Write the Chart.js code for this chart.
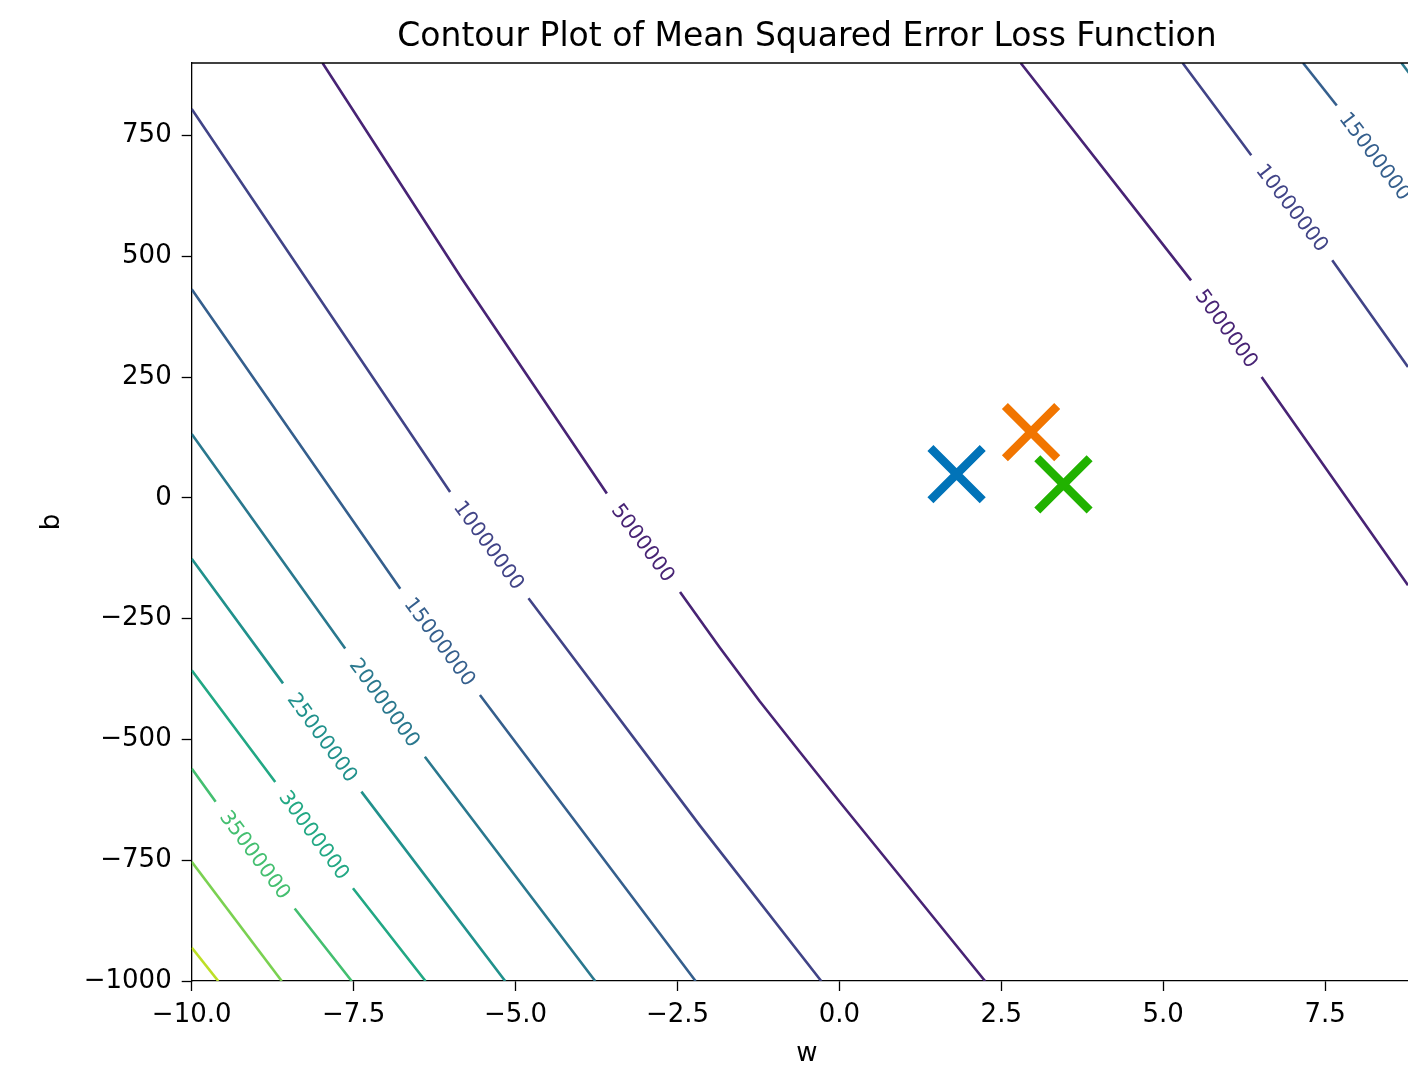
<!DOCTYPE html>
<html>
<head>
<meta charset="utf-8">
<script src="https://cdn.jsdelivr.net/npm/chart.js@4.4.0/dist/chart.umd.min.js"></script>
<style>
html,body{margin:0;padding:0;overflow:hidden;background:#fff;width:1408px;height:1066px;}
#c{display:block;}
</style>
</head>
<body>
<canvas id="c" width="1408" height="1066"></canvas>
<script>
// ---------- chart texts ----------
const chartTitle = "Contour Plot of Mean Squared Error Loss Function";
const xTitle = "w";
const yTitle = "b";

// ---------- axes (the picture is cut at w ≈ 8.78; the full axes box runs to w = 9) ----------
const xRange = [-10, 8.78];
const xAxesFullMax = 9;
const yRange = [-1000, 900];
const xTicks = [-10, -7.5, -5, -2.5, 0, 2.5, 5, 7.5];
const xTickLabels = ["−10.0", "−7.5", "−5.0", "−2.5", "0.0", "2.5", "5.0", "7.5"];
const yTicks = [-1000, -750, -500, -250, 0, 250, 500, 750];
const yTickLabels = ["−1000", "−750", "−500", "−250", "0", "250", "500", "750"];

// ---------- contour levels (value, viridis colour) ----------
const levels = [5000000, 10000000, 15000000, 20000000, 25000000, 30000000, 35000000, 40000000, 45000000];
const levelColors = ["#482475", "#414487", "#355f8d", "#2a788e", "#21918c", "#22a884", "#44bf70", "#7ad151", "#bddf26"];

// ---------- contour lines: [w, b], null = label gap ----------
const c5M_left  = [[-7.98, 900], [-5.83, 454], [-3.59, 9], null, [-2.46, -195], [-1.85, -309], [-1.23, -421], [-0.61, -526], [0.01, -630], [1.01, -795], [2.25, -1000]];
const c10M_left = [[-10, 805], [-6.01, 12], null, [-4.80, -208], [-2.15, -679], [-0.28, -1000]];
const c15M_left = [[-10, 432], [-6.78, -188], null, [-5.55, -408], [-2.22, -1000]];
const c20M_left = [[-10, 132], [-7.63, -312], null, [-6.40, -536], [-3.77, -1000]];
const c25M_left = [[-10, -126], [-8.59, -384], null, [-7.38, -608], [-5.16, -1000]];
const c30M_left = [[-10, -357], [-8.71, -588], null, [-7.51, -808], [-6.39, -1000]];
const c35M_left = [[-10, -560], [-9.63, -629], null, [-8.41, -850], [-7.53, -1000]];
const c40M_left = [[-10, -753], [-8.61, -1000]];
const c45M_left = [[-10, -931], [-9.59, -1000]];
const c5M_right  = [[2.80, 900], [5.43, 450], null, [6.52, 250], [8.78, -181], [9.0, -224]];
const c10M_right = [[5.30, 900], [6.36, 709], null, [7.61, 492], [8.78, 271], [9.0, 228]];
const c15M_right = [[7.16, 900], [7.68, 812], null, [8.87, 601], [9.0, 576]];
const c20M_right = [[8.68, 900], [9.0, 843]];

const contourLines = [c5M_left, c10M_left, c15M_left, c20M_left, c25M_left, c30M_left, c35M_left, c40M_left, c45M_left,
                      c5M_right, c10M_right, c15M_right, c20M_right];
const contourLevelIndex = [0, 1, 2, 3, 4, 5, 6, 7, 8, 0, 1, 2, 3];

// ---------- inline contour labels ----------
const labelText = ["5000000", "10000000", "15000000", "20000000", "25000000", "30000000", "35000000", "5000000", "10000000", "15000000"];
const labelW    = [-3.03, -5.41, -6.17, -7.02, -7.98, -8.11, -9.02, 5.98, 6.99, 8.27];
const labelB    = [-93, -98, -298, -424, -496, -698, -739, 350, 600, 707];
const labelLine = [0, 1, 2, 3, 4, 5, 6, 9, 10, 11];

// ---------- markers ----------
const markerW = [1.81, 2.96, 3.46];
const markerB = [49, 136, 28];
const markerColors = ["#0173b8", "#f17500", "#21b200"];

const FONT = "'DejaVu Sans', 'Liberation Sans', sans-serif";
Chart.defaults.font.family = FONT;

function toPoints(line) {
  const out = [];
  for (let i = 0; i < line.length; i++) {
    const p = line[i];
    if (p === null) {
      out.push({x: line[i - 1][0], y: null});
    } else {
      out.push({x: p[0], y: p[1]});
    }
  }
  return out;
}

const datasets = [];
markerW.forEach((w, i) => {
  datasets.push({
    type: 'scatter',
    label: 'marker' + i,
    data: [{x: w, y: markerB[i]}],
    showLine: false,
    pointStyle: 'crossRot',
    pointRadius: 37,
    pointHoverRadius: 37,
    pointBorderWidth: 8.5,
    pointHoverBorderWidth: 8.5,
    pointBorderColor: markerColors[i],
    pointBackgroundColor: markerColors[i],
    order: 0
  });
});
contourLines.forEach((line, i) => {
  const col = levelColors[contourLevelIndex[i]];
  datasets.push({
    type: 'line',
    label: 'level ' + levels[contourLevelIndex[i]],
    data: toPoints(line),
    borderColor: col,
    backgroundColor: col,
    borderWidth: 2.6,
    pointRadius: 0,
    pointHoverRadius: 0,
    fill: false,
    spanGaps: false,
    tension: 0,
    borderJoinStyle: 'round',
    order: 1
  });
});

// top spine (left and bottom are the axis borders; right spine lies outside the picture)
const framePlugin = {
  id: 'frame',
  afterLayout(chart) {
    // centre title and x-axis title over the full axes box (which runs past the picture edge)
    const extra = chart.scales.x.getPixelForValue(xAxesFullMax) - chart.chartArea.right;
    chart.titleBlock.right += extra;
    chart.scales.x.right += extra;
  },
  afterDatasetsDraw(chart) {
    const {ctx, chartArea: a} = chart;
    ctx.save();
    ctx.strokeStyle = '#000';
    ctx.lineWidth = 1.3;
    ctx.beginPath();
    ctx.moveTo(a.left, a.top);
    ctx.lineTo(a.right + 20, a.top);
    ctx.stroke();
    ctx.restore();
  }
};

const contourLabelPlugin = {
  id: 'contourLabels',
  afterDatasetsDraw(chart) {
    const {ctx} = chart;
    const xs = chart.scales.x, ys = chart.scales.y;
    ctx.save();
    ctx.font = "20.5px " + FONT;
    ctx.textAlign = 'center';
    ctx.textBaseline = 'middle';
    labelText.forEach((t, i) => {
      const line = contourLines[labelLine[i]];
      const g = line.indexOf(null);
      const p0 = line[g - 1], p1 = line[g + 1];
      const ang = Math.atan2(ys.getPixelForValue(p1[1]) - ys.getPixelForValue(p0[1]),
                             xs.getPixelForValue(p1[0]) - xs.getPixelForValue(p0[0]));
      const cx = xs.getPixelForValue(labelW[i]);
      const cy = ys.getPixelForValue(labelB[i]);
      ctx.save();
      ctx.translate(cx, cy);
      ctx.rotate(ang);
      ctx.fillStyle = levelColors[contourLevelIndex[labelLine[i]]];
      ctx.fillText(t, 0, 1);
      ctx.restore();
    });
    ctx.restore();
  }
};

new Chart(document.getElementById('c'), {
  type: 'scatter',
  data: {datasets},
  options: {
    responsive: false,
    animation: false,
    devicePixelRatio: 1,
    events: [],
    layout: {autoPadding: false, padding: {left: 0, right: 0, top: 0, bottom: 0}},
    plugins: {
      legend: {display: false},
      tooltip: {enabled: false},
      title: {
        display: true,
        text: chartTitle,
        fullSize: false,
        color: '#000',
        font: {family: FONT, size: 33, weight: 'normal', lineHeight: 1.2},
        padding: {top: 17.9, bottom: 5.5}
      }
    },
    scales: {
      x: {
        type: 'linear',
        position: 'bottom',
        min: xRange[0],
        max: xRange[1],
        afterBuildTicks: s => { s.ticks = xTicks.map(v => ({value: v})); },
        afterFit: s => { s.height = 85; s.paddingLeft = 0; s.paddingRight = 0; },
        ticks: {
          autoSkip: false, maxRotation: 0, minRotation: 0,
          color: '#000', padding: 9,
          font: {family: FONT, size: 26},
          callback: v => { const i = xTicks.indexOf(v); return i >= 0 ? xTickLabels[i] : ''; }
        },
        grid: {display: true, drawOnChartArea: false, drawTicks: true, tickLength: 10, tickColor: '#000', tickWidth: 1.3},
        border: {display: true, color: '#000', width: 1.3},
        title: {display: true, text: xTitle, color: '#000', font: {family: FONT, size: 26, lineHeight: 0.9}, padding: {top: 0, bottom: 0}}
      },
      y: {
        type: 'linear',
        position: 'left',
        min: yRange[0],
        max: yRange[1],
        afterBuildTicks: s => { s.ticks = yTicks.map(v => ({value: v})); },
        afterFit: s => { s.width = 191.7; s.paddingTop = 0; s.paddingBottom = 0; },
        ticks: {
          autoSkip: false,
          color: '#000', padding: 10,
          font: {family: FONT, size: 26},
          callback: v => { const i = yTicks.indexOf(v); return i >= 0 ? yTickLabels[i] : ''; }
        },
        grid: {display: true, drawOnChartArea: false, drawTicks: true, tickLength: 10, tickColor: '#000', tickWidth: 1.3},
        border: {display: true, color: '#000', width: 1.3},
        title: {display: true, text: yTitle, color: '#000', font: {family: FONT, size: 26, lineHeight: 1.2}, padding: {top: 37, bottom: 0}}
      }
    }
  },
  plugins: [framePlugin, contourLabelPlugin]
});
</script>
</body>
</html>
